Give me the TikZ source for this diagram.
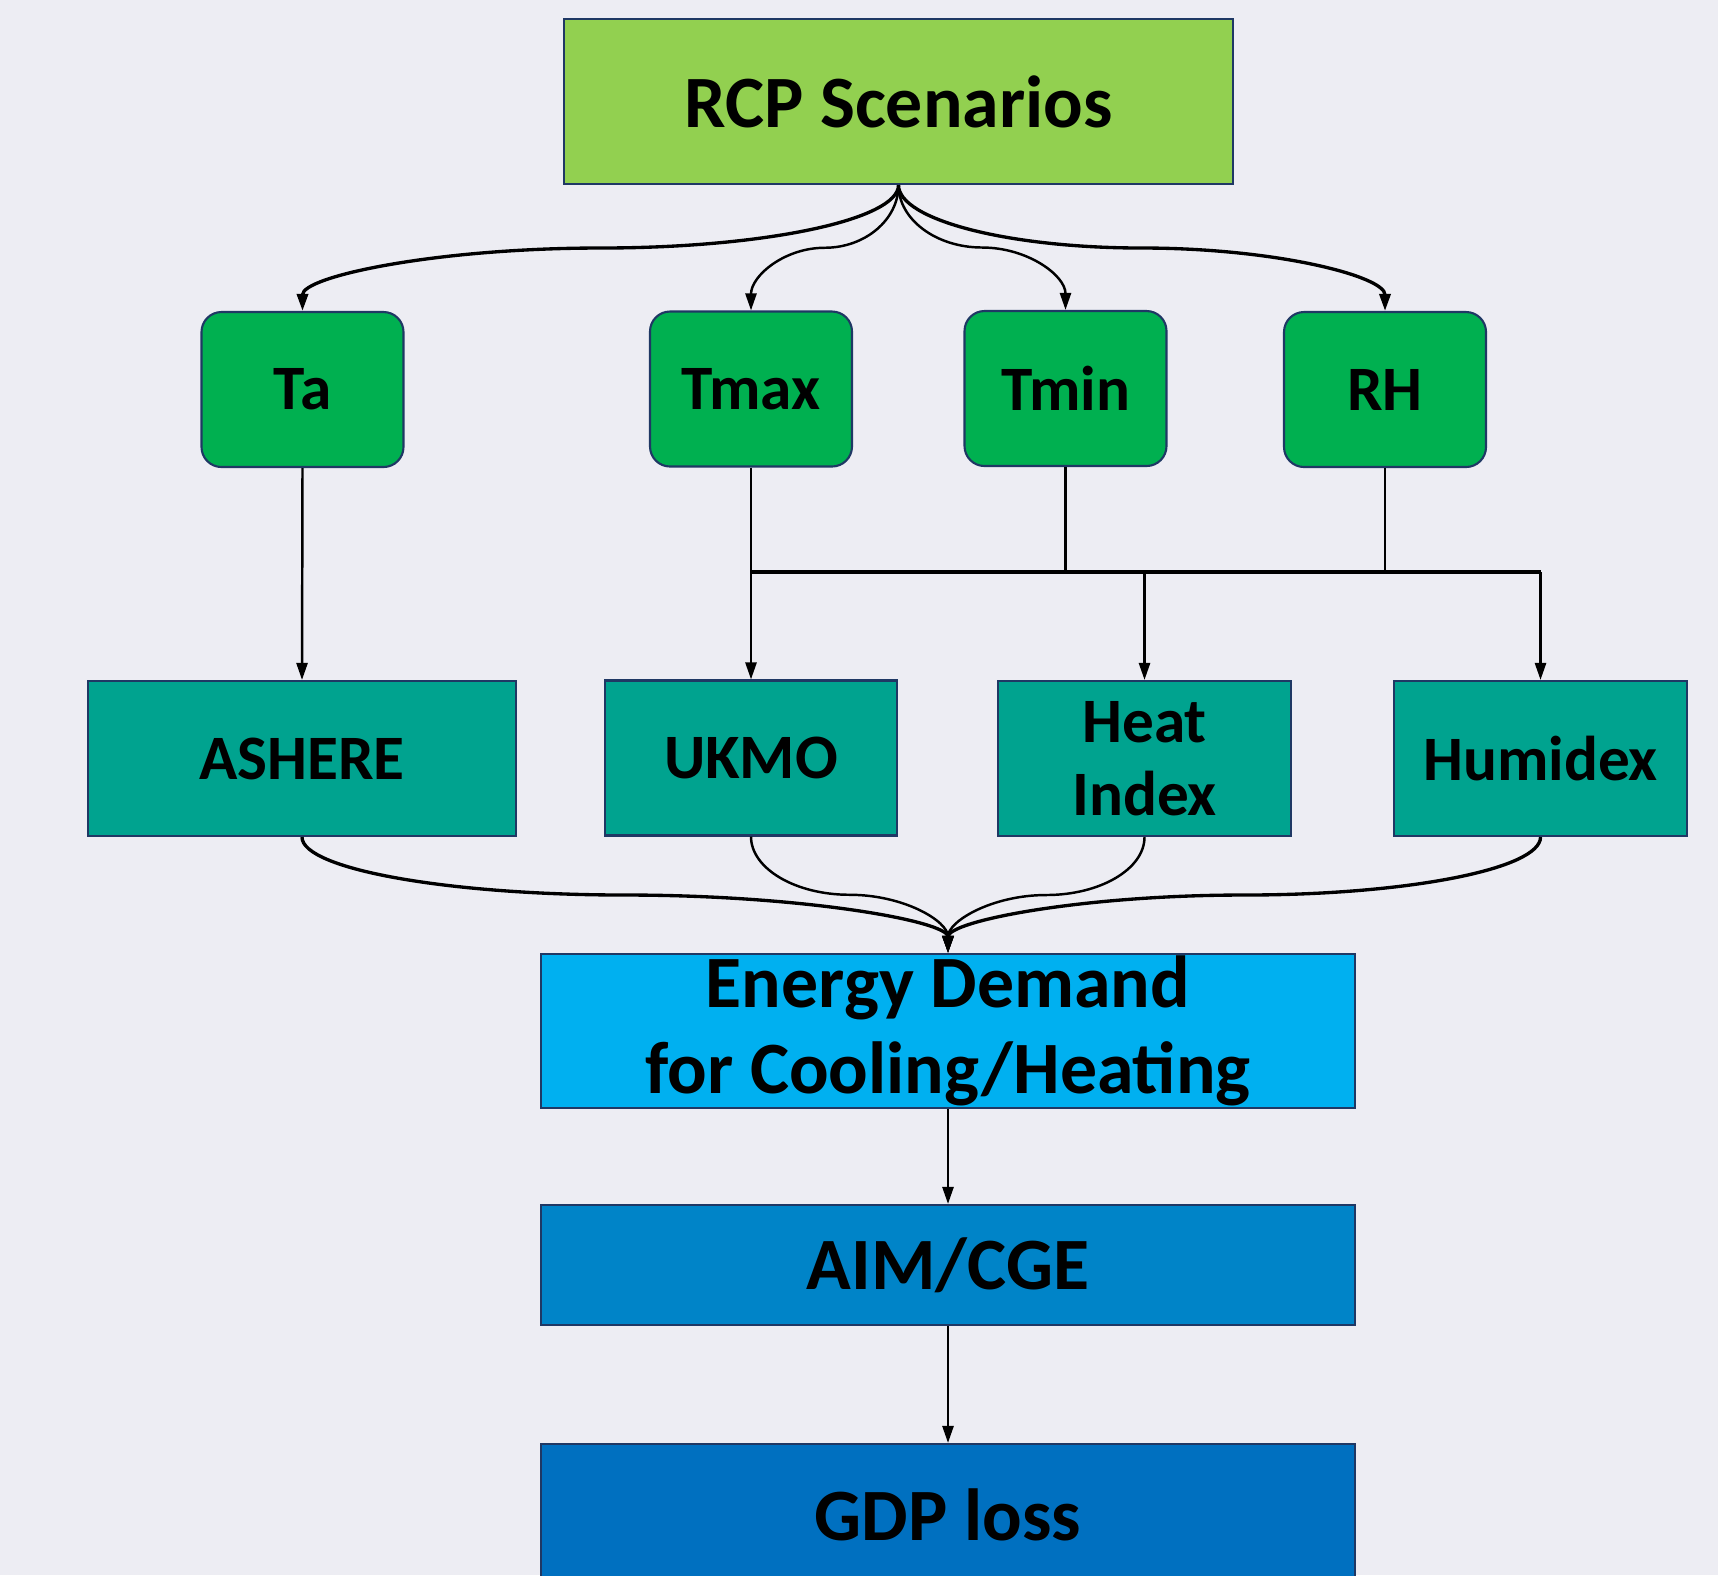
\documentclass[tikz,border=0pt]{standalone}
\usepackage{fontspec}
\setmainfont{Carlito}
\usepackage{tikz}
\usetikzlibrary{calc, arrows.meta}
\usepackage{xcolor}

\definecolor{bgcol}{RGB}{237,237,243}
\definecolor{edgecol}{RGB}{31,56,100}
\definecolor{rcpcol}{RGB}{146,208,80}
\definecolor{varcol}{RGB}{0,176,80}
\definecolor{idxcol}{RGB}{0,163,143}
\definecolor{enecol}{RGB}{0,176,240}
\definecolor{aimcol}{RGB}{0,132,200}
\definecolor{gdpcol}{RGB}{0,112,192}

\tikzset{
	box/.style={draw=edgecol, line width=0.6pt, inner sep=0pt, align=center, font=\bfseries},
	bigtxt/.style={font=\fontsize{21}{24.3}\selectfont\bfseries},
	smalltxt/.style={font=\fontsize{18}{20.9}\selectfont\bfseries},
	varbox/.style={box, smalltxt, fill=varcol, rounded corners=0.2cm, minimum width=2.02cm, minimum height=1.55cm},
	idxbox/.style={box, smalltxt, fill=idxcol, minimum height=1.55cm},
	arr/.style={-{Triangle[length=0.17cm,width=0.11cm]}, line width=0.7pt},
	thickarr/.style={arr, line width=0.95pt},
}

\begin{document}
\begin{tikzpicture}
		\path[use as bounding box, fill=bgcol] (0,0) rectangle (17.18,-15.75);
		% top
		\node[box, bigtxt, fill=rcpcol, minimum width=6.69cm, minimum height=1.65cm] (rcp) at (8.985,-1.015) {RCP Scenarios};
		% climate variables
		\node[varbox] (ta) at (3.025,-3.895) {Ta};
		\node[varbox] (tmax) at (7.51,-3.89) {Tmax};
		\node[varbox] (tmin) at (10.655,-3.885) {Tmin};
		\node[varbox] (rh) at (13.85,-3.895) {RH};
		% indices
		\node[idxbox, minimum width=4.28cm] (ashere) at (3.02,-7.585) {ASHERE};
		\node[idxbox, minimum width=2.92cm] (ukmo) at (7.51,-7.58) {UKMO};
		\node[idxbox, minimum width=2.93cm] (heat) at (11.445,-7.585) {Heat\\Index};
		\node[idxbox, minimum width=2.93cm] (humidex) at (15.405,-7.585) {Humidex};
		% models
		\node[box, bigtxt, fill=enecol, minimum width=8.14cm, minimum height=1.54cm] (energy) at (9.48,-10.31) {Energy Demand\\for Cooling/Heating};
		\node[box, bigtxt, fill=aimcol, minimum width=8.14cm, minimum height=1.2cm] (aim) at (9.48,-12.65) {AIM/CGE};
		\node[box, bigtxt, fill=gdpcol, minimum width=8.14cm, minimum height=1.42cm] (gdp) at (9.48,-15.15) {GDP loss};

		% RCP to the variables
		\coordinate (m1) at ($(rcp.south)!.5!(ta.north)$);
		\coordinate (m2) at ($(rcp.south)!.5!(tmax.north)$);
		\coordinate (m3) at ($(rcp.south)!.5!(tmin.north)$);
		\coordinate (m4) at ($(rcp.south)!.5!(rh.north)$);
		\draw[thickarr] (rcp.south) .. controls ($(rcp.south)!.55!(rcp.south |- m1)$) and ($(m1)!.55!(rcp.south |- m1)$) .. (m1)
			.. controls ($(m1)!.55!(ta.north |- m1)$) and ($(ta.north)!.55!(ta.north |- m1)$) .. (ta.north);
		\draw[arr] (rcp.south) .. controls ($(rcp.south)!.55!(rcp.south |- m2)$) and ($(m2)!.55!(rcp.south |- m2)$) .. (m2)
			.. controls ($(m2)!.55!(tmax.north |- m2)$) and ($(tmax.north)!.55!(tmax.north |- m2)$) .. (tmax.north);
		\draw[arr] (rcp.south) .. controls ($(rcp.south)!.55!(rcp.south |- m3)$) and ($(m3)!.55!(rcp.south |- m3)$) .. (m3)
			.. controls ($(m3)!.55!(tmin.north |- m3)$) and ($(tmin.north)!.55!(tmin.north |- m3)$) .. (tmin.north);
		\draw[thickarr] (rcp.south) .. controls ($(rcp.south)!.55!(rcp.south |- m4)$) and ($(m4)!.55!(rcp.south |- m4)$) .. (m4)
			.. controls ($(m4)!.55!(rh.north |- m4)$) and ($(rh.north)!.55!(rh.north |- m4)$) .. (rh.north);

		% variables to the indices
		\draw[arr] (ta.south) -- (ashere.north);
		\draw[arr] (tmax.south) -- (ukmo.north);
		\coordinate (bus) at (7.51,-5.72);
		\draw[line width=0.7pt] (tmin.south) -- (tmin.south |- bus);
		\draw[line width=0.7pt] (rh.south) -- (rh.south |- bus);
		\draw[line width=0.95pt] (bus) -- (humidex.north |- bus);
		\draw[arr] (heat.north |- bus) -- (heat.north);
		\draw[arr] (humidex.north |- bus) -- (humidex.north);

		% indices to energy demand
		\coordinate (n1) at ($(ashere.south)!.5!(energy.north)$);
		\coordinate (n2) at ($(ukmo.south)!.5!(energy.north)$);
		\coordinate (n3) at ($(heat.south)!.5!(energy.north)$);
		\coordinate (n4) at ($(humidex.south)!.5!(energy.north)$);
		\draw[thickarr] (ashere.south) .. controls ($(ashere.south)!.55!(ashere.south |- n1)$) and ($(n1)!.55!(ashere.south |- n1)$) .. (n1)
			.. controls ($(n1)!.55!(energy.north |- n1)$) and ($(energy.north)!.55!(energy.north |- n1)$) .. (energy.north);
		\draw[arr] (ukmo.south) .. controls ($(ukmo.south)!.55!(ukmo.south |- n2)$) and ($(n2)!.55!(ukmo.south |- n2)$) .. (n2)
			.. controls ($(n2)!.55!(energy.north |- n2)$) and ($(energy.north)!.55!(energy.north |- n2)$) .. (energy.north);
		\draw[arr] (heat.south) .. controls ($(heat.south)!.55!(heat.south |- n3)$) and ($(n3)!.55!(heat.south |- n3)$) .. (n3)
			.. controls ($(n3)!.55!(energy.north |- n3)$) and ($(energy.north)!.55!(energy.north |- n3)$) .. (energy.north);
		\draw[thickarr] (humidex.south) .. controls ($(humidex.south)!.55!(humidex.south |- n4)$) and ($(n4)!.55!(humidex.south |- n4)$) .. (n4)
			.. controls ($(n4)!.55!(energy.north |- n4)$) and ($(energy.north)!.55!(energy.north |- n4)$) .. (energy.north);

		% models
		\draw[arr] (energy.south) -- (aim.north);
		\draw[arr] (aim.south) -- (gdp.north);
	\end{tikzpicture}
\end{document}
